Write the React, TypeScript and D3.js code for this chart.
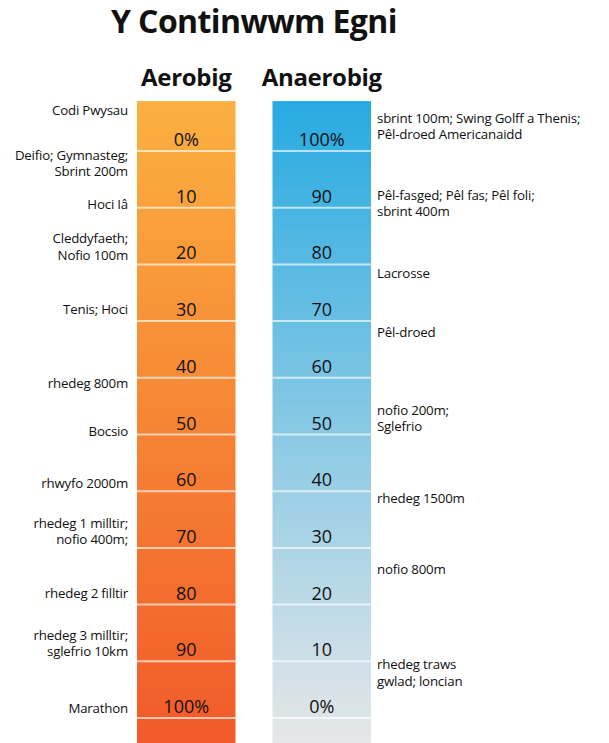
import React from 'react';
import * as d3 from 'd3';

// continuum levels (percent) and their printed labels
const levels = [0, 10, 20, 30, 40, 50, 60, 70, 80, 90, 100];
const aerobicTicks = ['0%', '10', '20', '30', '40', '50', '60', '70', '80', '90', '100%'];
const anaerobicTicks = ['100%', '90', '80', '70', '60', '50', '40', '30', '20', '10', '0%'];

const columns = ['Aerobig', 'Anaerobig'];

// sports placed along the aerobic scale (left side)
const aerobicSports = [
  { value: -7.2, lines: ['Codi Pwysau'] },
  { value: 2.2, lines: ['Deifio; Gymnasteg;', 'Sbrint 200m'] },
  { value: 9.4, lines: ['Hoci Iâ'] },
  { value: 16.9, lines: ['Cleddyfaeth;', 'Nofio 100m'] },
  { value: 27.9, lines: ['Tenis; Hoci'] },
  { value: 41.0, lines: ['rhedeg 800m'] },
  { value: 49.4, lines: ['Bocsio'] },
  { value: 58.6, lines: ['rhwyfo 2000m'] },
  { value: 67.1, lines: ['rhedeg 1 milltir;', 'nofio 400m;'] },
  { value: 78.0, lines: ['rhedeg 2 filltir'] },
  { value: 86.8, lines: ['rhedeg 3 milltir;', 'sglefrio 10km'] },
  { value: 98.3, lines: ['Marathon'] },
];

// sports placed along the anaerobic scale (right side)
const anaerobicSports = [
  { value: 104.4, lines: ['sbrint 100m; Swing Golff a Thenis;', 'Pêl-droed Americanaidd'] },
  { value: 90.8, lines: ['Pêl-fasged; Pêl fas; Pêl foli;', 'sbrint 400m'] },
  { value: 78.4, lines: ['Lacrosse'] },
  { value: 68.0, lines: ['Pêl-droed'] },
  { value: 52.9, lines: ['nofio 200m;', 'Sglefrio'] },
  { value: 38.7, lines: ['rhedeg 1500m'] },
  { value: 26.2, lines: ['nofio 800m'] },
  { value: 8.0, lines: ['rhedeg traws', 'gwlad; loncian'] },
];

const gradients = [
  ['#FBB040', '#F15A29'],
  ['#27AAE1', '#E6E7E8'],
];

const W = 609;
const H = 743;
const FONT = "'Open Sans', 'Noto Sans', sans-serif";

export default function App() {
  const y = d3.scaleLinear().domain([0, 100]).range([151, 718]);
  const yAn = d3.scaleLinear().domain([100, 0]).range([151, 718]);
  const x = d3.scaleBand<string>().domain(columns).range([137, 371]).paddingInner(0.273).paddingOuter(0);
  const bw = x.bandwidth();
  const top = y(-8.8);
  const lh = 16.5;

  const sportText = (s: { value: number; lines: string[] }, yy: number, tx: number, anchor: string, key: string) => {
    const first = yy - ((s.lines.length - 1) * lh) / 2 + 4.7;
    return (
      <text key={key} x={tx} y={first} textAnchor={anchor} fontSize={13.3} letterSpacing={-0.2} fontFamily={FONT} fill="#111">
        {s.lines.map((l, i) => (
          <tspan key={i} x={tx} y={first + i * lh}>{l}</tspan>
        ))}
      </text>
    );
  };

  return (
    <svg width={W} height={H} style={{ position: 'absolute', left: 0, top: 0 }} fontFamily={FONT}>
      <defs>
        {gradients.map((g, i) => (
          <linearGradient key={i} id={`grad${i}`} gradientUnits="userSpaceOnUse" x1={0} y1={top} x2={0} y2={H}>
            <stop offset="0" stopColor={g[0]} />
            <stop offset="1" stopColor={g[1]} />
          </linearGradient>
        ))}
      </defs>

      <text x={254} y={33} textAnchor="middle" fontSize={32} letterSpacing={-0.6} fontWeight={700} fill="#111">
        Y Continwwm Egni
      </text>

      {columns.map((c, i) => (
        <g key={c}>
          <text x={x(c)! + bw / 2} y={86} textAnchor="middle" fontSize={24} letterSpacing={-0.3} fontWeight={700} fill="#111">
            {c}
          </text>
          <rect x={x(c)} y={top} width={bw} height={H - top} fill={`url(#grad${i})`} />
          {levels.map((v) => (
            <line key={v} x1={x(c)} x2={x(c)! + bw} y1={y(v)} y2={y(v)} stroke="#fff" strokeOpacity={0.65} strokeWidth={2} />
          ))}
          {levels.map((v, k) => (
            <text key={`t${v}`} x={x(c)! + bw / 2} y={y(v) - 5} textAnchor="middle" fontSize={18} fill="#111">
              {i === 0 ? aerobicTicks[k] : anaerobicTicks[k]}
            </text>
          ))}
        </g>
      ))}

      {aerobicSports.map((s, i) => sportText(s, y(s.value), x('Aerobig')! - 9, 'end', `a${i}`))}
      {anaerobicSports.map((s, i) => sportText(s, yAn(s.value), x('Anaerobig')! + bw + 6, 'start', `n${i}`))}
    </svg>
  );
}
